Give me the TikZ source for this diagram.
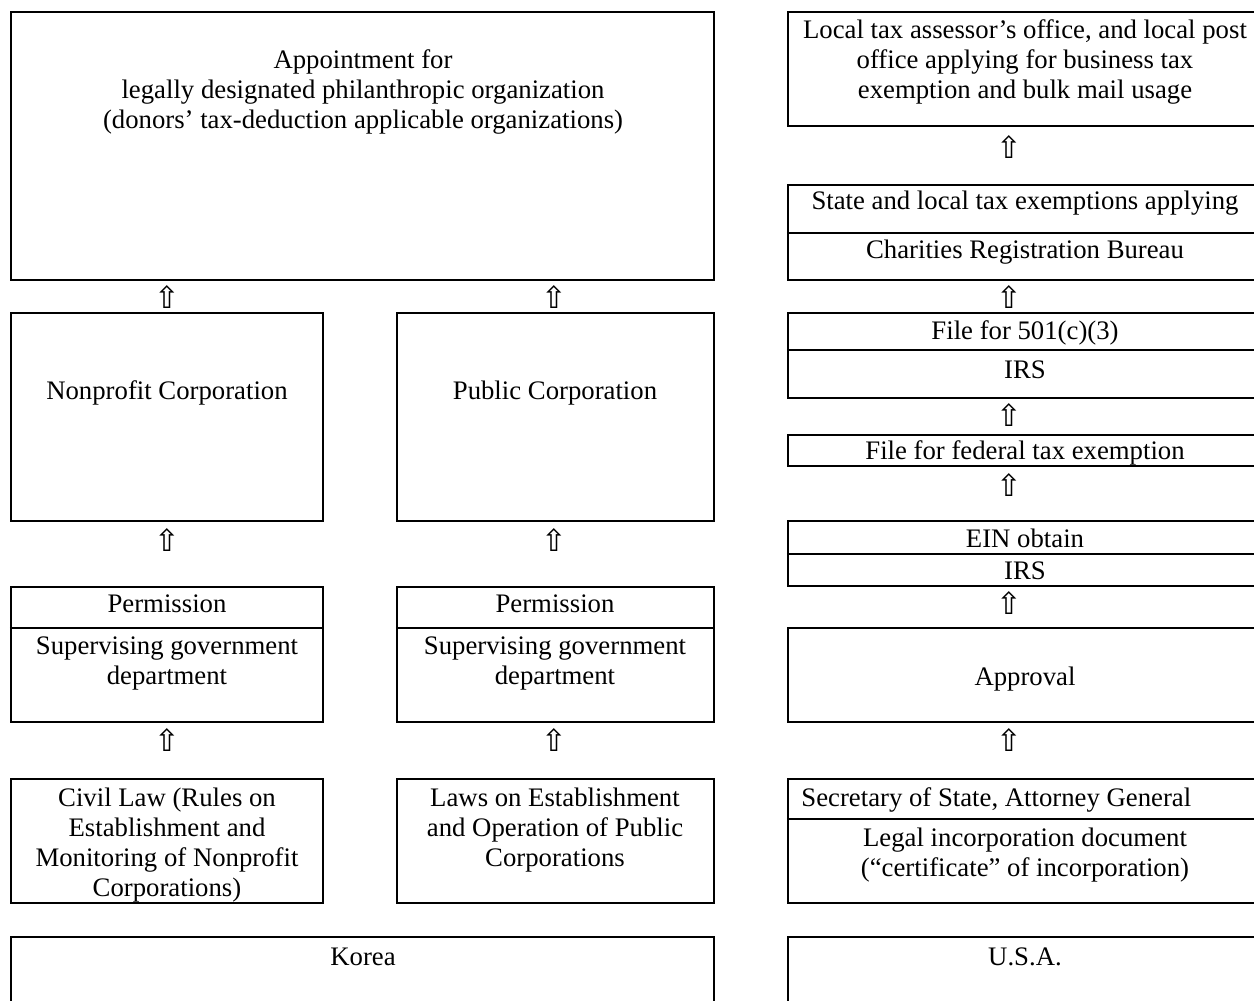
\documentclass[tikz,border=0pt]{standalone}
\usepackage{fontspec}
\setmainfont{Liberation Serif}
\newfontfamily\arrowfont{DejaVu Sans}
\usetikzlibrary{fit}
\begin{document}
\begin{tikzpicture}[x=0.46pt,y=-0.46pt,
  box/.style={draw, line width=1pt, inner sep=0pt},
  divider/.style={line width=1pt},
  txt/.style={align=center, font=\fontsize{12.3}{13.8}\selectfont, inner sep=0pt},
  uparr/.style={font=\arrowfont\fontsize{14}{14}\selectfont, inner sep=0pt}]
\useasboundingbox (0,0) rectangle (1254,1000);
\fill[white] (0,0) rectangle (1254,1000);
\clip (0,0) rectangle (1254,1000);

% ---------- Korea (left) ----------
\node[box, fit={(11,12) (714,280)}] (appt) {};
\node[txt] (appttxt) at (363,92) {Appointment for\\legally designated philanthropic organization\\(donors' tax-deduction applicable organizations)};

\node[box, fit={(11,313) (323,521)}] (npc) {};
\node[txt] (npctxt) at (167,393) {Nonprofit Corporation};
\node[box, fit={(397,313) (714,521)}] (pc) {};
\node[txt] (pctxt) at (555,393) {Public Corporation};

\node[box, fit={(11,587) (323,722)}] (perm1) {};
\draw[divider] (perm1.west |- 0,628) -- (perm1.east |- 0,628);
\node[txt] (perm1a) at (167,604) {Permission};
\node[txt] (perm1b) at (167,663) {Supervising government\\department};
\node[box, fit={(397,587) (714,722)}] (perm2) {};
\draw[divider] (perm2.west |- 0,628) -- (perm2.east |- 0,628);
\node[txt] (perm2a) at (555,604) {Permission};
\node[txt] (perm2b) at (555,663) {Supervising government\\department};

\node[box, fit={(11,779) (323,903)}] (civil) {};
\node[txt] (civiltxt) at (167,845) {Civil Law (Rules on\\Establishment and\\Monitoring of Nonprofit\\Corporations)};
\node[box, fit={(397,779) (714,903)}] (laws) {};
\node[txt] (lawstxt) at (555,830) {Laws on Establishment\\and Operation of Public\\Corporations};

\node[box, fit={(11,937) (714,1020)}] (korea) {};
\node[txt] (koreatxt) at (363,957) {Korea};

% arrows (left)
\node[uparr] (a1) at (167,297) {⇧};
\node[uparr] (a2) at (554,297) {⇧};
\node[uparr] (a3) at (167,540) {⇧};
\node[uparr] (a4) at (554,540) {⇧};
\node[uparr] (a5) at (167,740) {⇧};
\node[uparr] (a6) at (554,740) {⇧};

% ---------- U.S.A. (right) ----------
\node[box, fit={(788,12) (1262,126)}] (local) {};
\node[txt] (localtxt) at (1025,62) {Local tax assessor's office, and local post\\office applying for business tax\\exemption and bulk mail usage};

\node[box, fit={(788,185) (1262,280)}] (state) {};
\draw[divider] (state.west |- 0,233) -- (state.east |- 0,233);
\node[txt] (statea) at (1025,203) {State and local tax exemptions applying};
\node[txt] (stateb) at (1025,252) {Charities Registration Bureau};

\node[box, fit={(788,313) (1262,398)}] (f501) {};
\draw[divider] (f501.west |- 0,350) -- (f501.east |- 0,350);
\node[txt] (f501a) at (1025,333) {File for 501(c)(3)};
\node[txt] (f501b) at (1025,370) {IRS};

\node[box, fit={(788,435) (1262,466)}] (fed) {};
\node[txt] (fedtxt) at (1025,453) {File for federal tax exemption};

\node[box, fit={(788,521) (1262,586)}] (ein) {};
\draw[divider] (ein.west |- 0,554) -- (ein.east |- 0,554);
\node[txt] (eina) at (1025,538) {EIN obtain};
\node[txt] (einb) at (1025,571) {IRS};

\node[box, fit={(788,628) (1262,722)}] (appr) {};
\node[txt] (apprtxt) at (1025,679) {Approval};

\node[box, fit={(788,779) (1262,903)}] (sec) {};
\draw[divider] (sec.west |- 0,819) -- (sec.east |- 0,819);
\node[txt, anchor=west] (seca) at (801,800) {Secretary of State, Attorney General};
\node[txt] (secb) at (1025,855) {Legal incorporation document\\(“certificate” of incorporation)};

\node[box, fit={(788,937) (1262,1020)}] (usa) {};
\node[txt] (usatxt) at (1025,957) {U.S.A.};

% arrows (right)
\node[uparr] (b1) at (1009,147) {⇧};
\node[uparr] (b2) at (1009,297) {⇧};
\node[uparr] (b3) at (1009,415) {⇧};
\node[uparr] (b4) at (1009,485) {⇧};
\node[uparr] (b5) at (1009,603) {⇧};
\node[uparr] (b6) at (1009,740) {⇧};
\end{tikzpicture}
\end{document}
